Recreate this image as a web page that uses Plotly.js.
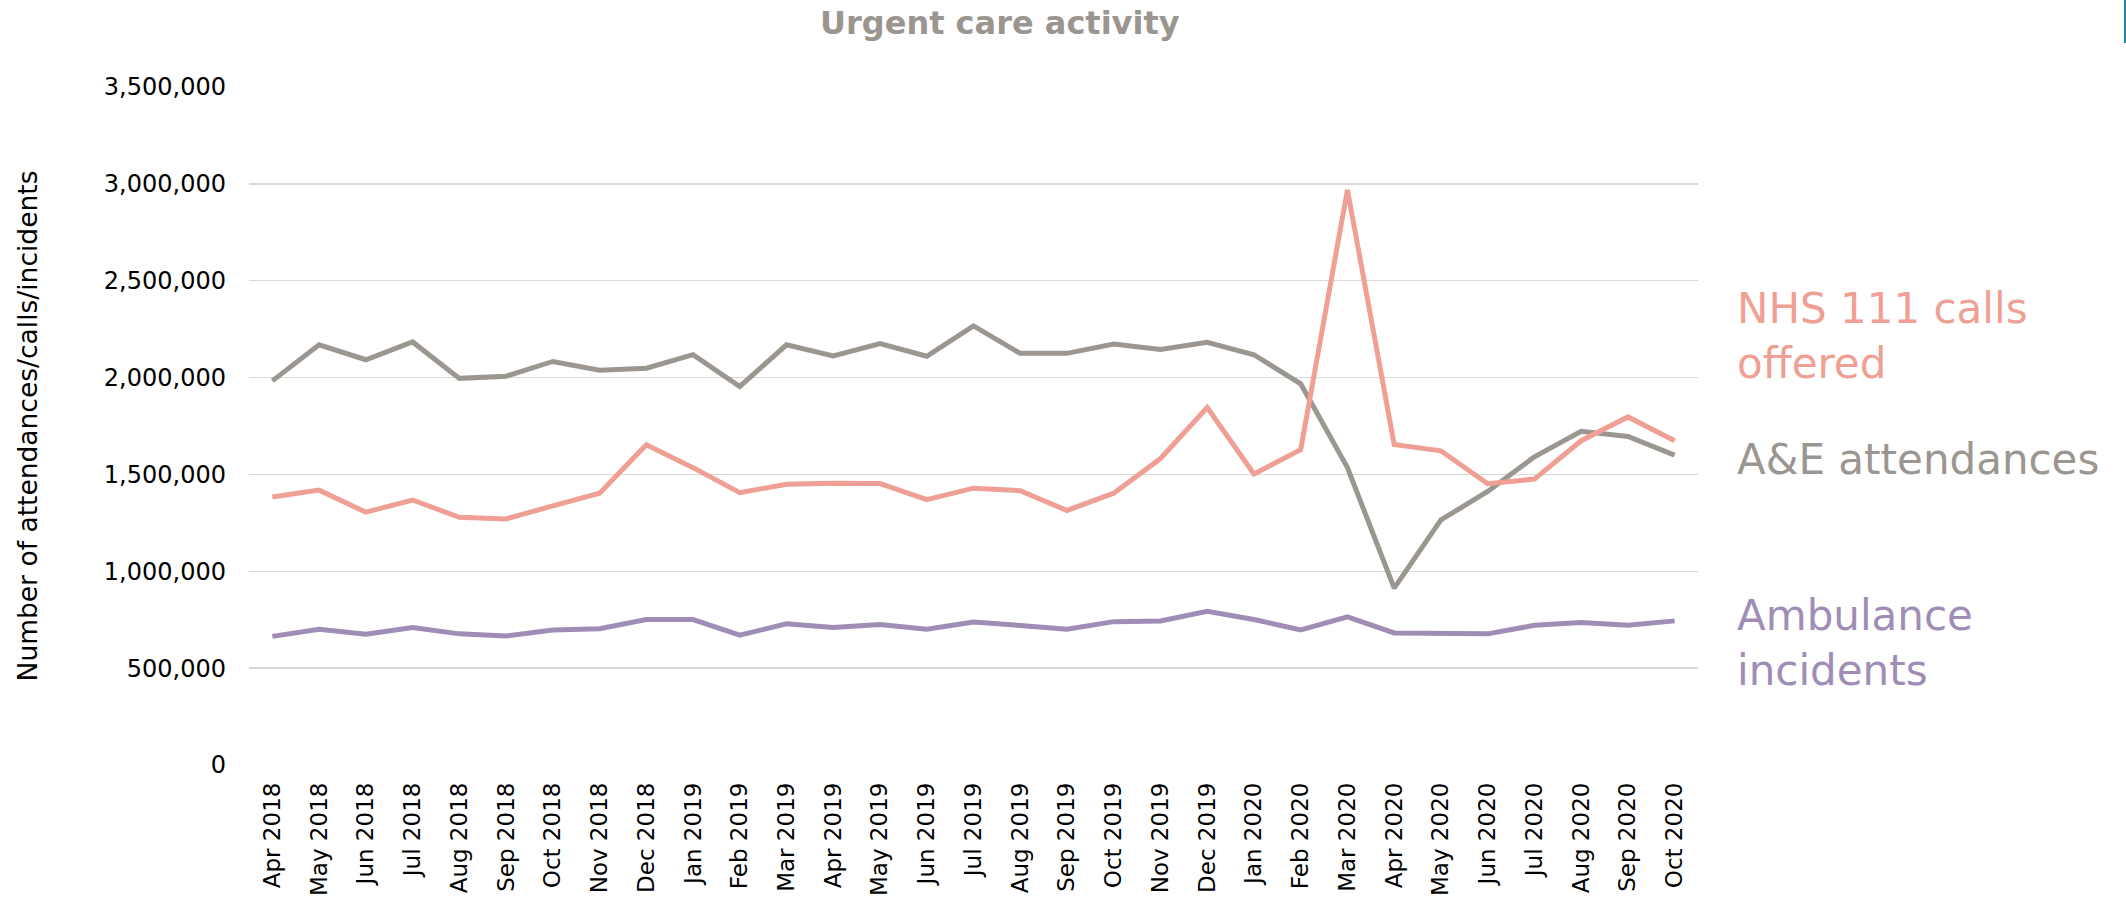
<!DOCTYPE html>
<html>
<head>
<meta charset="utf-8">
<script src="https://cdn.plot.ly/plotly-3.0.1.min.js"></script>
<style>
  html, body { margin: 0; padding: 0; background: #ffffff; }
  #chart { width: 2126px; height: 900px; }
</style>
</head>
<body>
<div id="chart"></div>
<script>
// ---- Data ----
const months = [
  'Apr 2018','May 2018','Jun 2018','Jul 2018','Aug 2018','Sep 2018','Oct 2018','Nov 2018','Dec 2018',
  'Jan 2019','Feb 2019','Mar 2019','Apr 2019','May 2019','Jun 2019','Jul 2019','Aug 2019','Sep 2019',
  'Oct 2019','Nov 2019','Dec 2019','Jan 2020','Feb 2020','Mar 2020','Apr 2020','May 2020','Jun 2020',
  'Jul 2020','Aug 2020','Sep 2020','Oct 2020'
];

const aeAttendances = [
  1983000, 2169000, 2092000, 2184000, 1996000, 2007000, 2083000, 2038000, 2048000, 2118000,
  1954000, 2169000, 2112000, 2175000, 2110000, 2267000, 2125000, 2125000, 2173000, 2145000,
  2182000, 2118000, 1968000, 1535000, 913000, 1265000, 1412000, 1591000, 1723000, 1696000,
  1600000
];

const nhs111Calls = [
  1383000, 1419000, 1305000, 1368000, 1279000, 1270000, 1338000, 1403000, 1653000, 1535000,
  1406000, 1449000, 1455000, 1453000, 1370000, 1429000, 1416000, 1314000, 1403000, 1582000,
  1845000, 1502000, 1628000, 2969000, 1655000, 1622000, 1452000, 1476000, 1674000, 1797000,
  1674000
];

const ambulanceIncidents = [
  664000, 701000, 675000, 710000, 677000, 666000, 697000, 703000, 751000, 751000,
  670000, 729000, 710000, 725000, 701000, 738000, 720000, 701000, 740000, 744000,
  793000, 751000, 697000, 765000, 682000, 680000, 677000, 721000, 736000, 722000,
  744000
];

const yTickVals = [0, 500000, 1000000, 1500000, 2000000, 2500000, 3000000, 3500000];

// ---- Styling ----
const colAE = '#9b9690';
const colNHS = '#ef9f93';
const colAmb = '#9f8db6';
const FONT = 'DejaVu Sans, Verdana, sans-serif';

const traces = [
  { x: months, y: aeAttendances, type: 'scatter', mode: 'lines', name: 'A&E attendances',
    line: { color: colAE, width: 5 }, hoverinfo: 'x+y' },
  { x: months, y: nhs111Calls, type: 'scatter', mode: 'lines', name: 'NHS 111 calls offered',
    line: { color: colNHS, width: 5 }, hoverinfo: 'x+y' },
  { x: months, y: ambulanceIncidents, type: 'scatter', mode: 'lines', name: 'Ambulance incidents',
    line: { color: colAmb, width: 5 }, hoverinfo: 'x+y' }
];

const layout = {
  width: 2126,
  height: 900,
  paper_bgcolor: '#ffffff',
  plot_bgcolor: '#ffffff',
  margin: { l: 249, r: 428, t: 87, b: 135, pad: 0 },
  showlegend: false,
  font: { family: FONT, color: '#000000' },
  title: {
    text: 'Urgent care activity',
    font: { family: FONT, size: 32, color: '#9b9590', weight: 'bold' },
    x: (820 - 249) / 1449, xref: 'paper', xanchor: 'left',
    y: 1 - 23 / 900, yref: 'container', yanchor: 'middle'
  },
  xaxis: {
    type: 'category',
    categoryorder: 'array',
    categoryarray: months,
    range: [-0.5, months.length - 0.5],
    tickangle: -90,
    tickfont: { family: FONT, size: 23, color: '#000000' },
    showgrid: false,
    showline: false,
    zeroline: false,
    ticks: '',
    ticklabelstandoff: 12,
    fixedrange: true
  },
  yaxis: {
    range: [0, 3500000],
    tickvals: yTickVals,
    tickformat: ',d',
    tickfont: { family: FONT, size: 24, color: '#000000' },
    showgrid: true,
    gridcolor: '#d9d9d9',
    gridwidth: 1.5,
    zeroline: false,
    showline: false,
    ticks: '',
    ticklabelstandoff: 22,
    title: {
      text: 'Number of attendances/calls/incidents',
      font: { family: FONT, size: 26.5, color: '#000000' },
      standoff: 58
    },
    fixedrange: true
  },
  annotations: [
    { text: 'NHS 111 calls<br>offered', xref: 'paper', yref: 'paper',
      x: 1 + (1735 - 1698) / 1449, y: (765 - 336) / 678, xanchor: 'left', yanchor: 'middle',
      align: 'left', showarrow: false, font: { family: FONT, size: 42, color: colNHS } },
    { text: 'A&E attendances', xref: 'paper', yref: 'paper',
      x: 1 + (1735 - 1698) / 1449, y: (765 - 460) / 678, xanchor: 'left', yanchor: 'middle',
      align: 'left', showarrow: false, font: { family: FONT, size: 42, color: colAE } },
    { text: 'Ambulance<br>incidents', xref: 'paper', yref: 'paper',
      x: 1 + (1735 - 1698) / 1449, y: (765 - 643) / 678, xanchor: 'left', yanchor: 'middle',
      align: 'left', showarrow: false, font: { family: FONT, size: 42, color: colAmb } }
  ],
  shapes: [
    { type: 'line', xref: 'paper', yref: 'paper',
      x0: (2125 - 249) / 1449, x1: (2125 - 249) / 1449,
      y0: (765 - 0) / 678, y1: (765 - 43) / 678,
      line: { color: '#1a8c9c', width: 2 } }
  ]
};

Plotly.newPlot('chart', traces, layout, { displayModeBar: false, staticPlot: true });
</script>
</body>
</html>
